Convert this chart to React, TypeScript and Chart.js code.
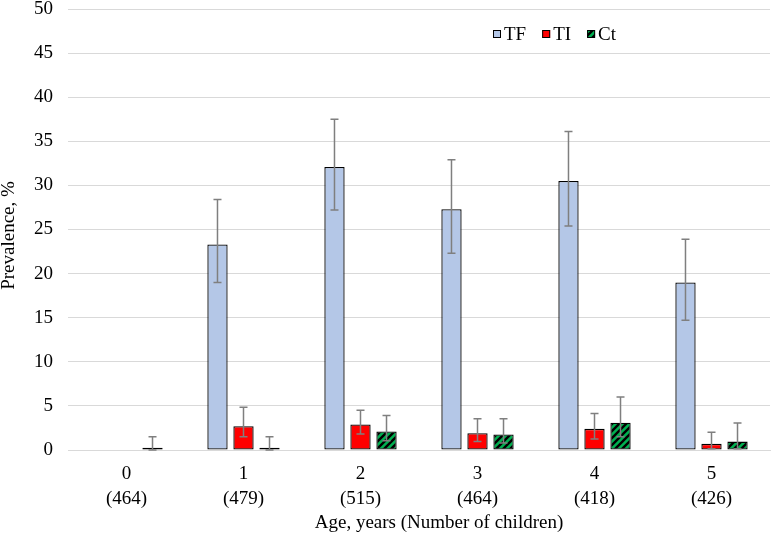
import { useEffect, useRef } from "react";
import { Chart, registerables } from "chart.js";
Chart.register(...registerables);

const categories = ["0", "1", "2", "3", "4", "5"];
const sampleSizes = ["(464)", "(479)", "(515)", "(464)", "(418)", "(426)"];

const tfValues = [0, 23.3, 32.1, 27.3, 30.5, 19.0];
const tfLower = [null, 19.0, 27.2, 22.3, 25.4, 14.7];
const tfUpper = [null, 28.4, 37.5, 32.9, 36.1, 23.9];

const tiValues = [0, 2.7, 2.9, 1.9, 2.4, 0.7];
const tiLower = [null, 1.5, 1.8, 0.95, 1.25, 0.15];
const tiUpper = [null, 4.85, 4.5, 3.55, 4.15, 2.0];

const ctValues = [0.25, 0.25, 2.1, 1.75, 3.1, 0.95];
const ctLower = [0, 0, 1.05, 0.8, 1.5, 0.15];
const ctUpper = [1.5, 1.5, 3.9, 3.55, 6.0, 3.05];

const yTicks = { min: 0, max: 50, step: 5 };
const xTitle = "Age, years (Number of children)";
const yTitle = "Prevalence, %";

const FONT = "'Liberation Serif', 'Times New Roman', serif";
const FS = 19;

function makeStripes(ctx: CanvasRenderingContext2D) {
  const s = 7;
  const c = document.createElement("canvas");
  c.width = s;
  c.height = s;
  const g = c.getContext("2d")!;
  g.fillStyle = "#00B050";
  g.fillRect(0, 0, s, s);
  g.strokeStyle = "#000000";
  g.lineWidth = 2.4;
  g.beginPath();
  g.moveTo(0, s);
  g.lineTo(s, 0);
  g.moveTo(-2, 2);
  g.lineTo(2, -2);
  g.moveTo(s - 2, s + 2);
  g.lineTo(s + 2, s - 2);
  g.stroke();
  return ctx.createPattern(c, "repeat") || "#00B050";
}

export default function App() {
  const ref = useRef<HTMLCanvasElement>(null);

  useEffect(() => {
    const ctx = ref.current!.getContext("2d")!;
    const stripes = makeStripes(ctx);

    const errorBars = {
      id: "errorBars",
      afterDatasetsDraw(chart: any) {
        const c = chart.ctx;
        const yScale = chart.scales.y;
        chart.data.datasets.forEach((ds: any, i: number) => {
          const meta = chart.getDatasetMeta(i);
          meta.data.forEach((bar: any, j: number) => {
            const lo = ds.errLow[j];
            const hi = ds.errHigh[j];
            if (lo == null || hi == null) return;
            const x = bar.x;
            const yLo = yScale.getPixelForValue(lo);
            const yHi = yScale.getPixelForValue(hi);
            c.save();
            c.strokeStyle = "#7F7F7F";
            c.lineWidth = 1.5;
            c.beginPath();
            c.moveTo(x, yLo);
            c.lineTo(x, yHi);
            c.moveTo(x - 4, yHi);
            c.lineTo(x + 4, yHi);
            c.moveTo(x - 4, yLo);
            c.lineTo(x + 4, yLo);
            c.stroke();
            c.restore();
          });
        });
      },
    };

    const customText = {
      id: "customText",
      afterDraw(chart: any) {
        const c = chart.ctx;
        const area = chart.chartArea;
        c.save();
        c.font = `${FS}px ${FONT}`;
        c.textBaseline = "middle";
        c.textAlign = "left";
        // legend
        let x = 493;
        const y = 34;
        chart.data.datasets.forEach((ds: any) => {
          c.fillStyle = ds.backgroundColor;
          c.fillRect(x, y - 4, 8, 8);
          c.strokeStyle = "#000";
          c.lineWidth = 1;
          c.strokeRect(x + 0.5, y - 3.5, 7, 7);
          c.fillStyle = "#000";
          c.fillText(ds.label, x + 11, y + 1);
          x += 11 + c.measureText(ds.label).width + 16;
        });
        // axis titles
        c.fillStyle = "#000";
        c.textAlign = "center";
        c.fillText(xTitle, (area.left + area.right) / 2 + 20, 523);
        c.translate(9, (area.top + area.bottom) / 2 + 6);
        c.rotate(-Math.PI / 2);
        c.fillText(yTitle, 0, 0);
        c.restore();
      },
    };

    const common = {
      borderColor: "#000000",
      borderWidth: 1.3,
      borderSkipped: false,
      categoryPercentage: 0.667,
      barPercentage: 0.78,
    };

    const chart = new Chart(ctx, {
      type: "bar",
      data: {
        labels: categories.map((c, i) => [c, sampleSizes[i]]),
        datasets: [
          { label: "TF", data: tfValues, backgroundColor: "#B4C7E7", errLow: tfLower, errHigh: tfUpper, ...common } as any,
          { label: "TI", data: tiValues, backgroundColor: "#FF0000", errLow: tiLower, errHigh: tiUpper, ...common } as any,
          { label: "Ct", data: ctValues, backgroundColor: stripes, errLow: ctLower, errHigh: ctUpper, ...common } as any,
        ],
      },
      options: {
        animation: false,
        responsive: true,
        maintainAspectRatio: false,
        layout: { padding: { top: 9, right: 4, left: 0, bottom: 0 } },
        plugins: {
          legend: { display: false },
          tooltip: { enabled: false },
        },
        scales: {
          x: {
            grid: { display: false, drawTicks: false },
            border: { display: true, color: "#D9D9D9", width: 1 },
            ticks: {
              color: "#000",
              font: { family: FONT, size: FS, lineHeight: 1.32 },
              padding: 11,
              maxRotation: 0,
            },
            title: { display: false, text: xTitle },
            afterFit: (s: any) => {
              s.height = 88;
              s.paddingLeft = 0;
              s.paddingRight = 0;
            },
          },
          y: {
            min: yTicks.min,
            max: yTicks.max,
            grid: { color: "#D9D9D9", lineWidth: 1, drawTicks: false },
            border: { display: false },
            ticks: {
              stepSize: yTicks.step,
              color: "#000",
              font: { family: FONT, size: FS },
              padding: 15,
            },
            title: { display: false, text: yTitle },
            afterFit: (s: any) => {
              s.width = 68;
              s.paddingTop = 0;
              s.paddingBottom = 0;
            },
          },
        },
      },
      plugins: [errorBars, customText],
    });
    return () => chart.destroy();
  }, []);

  return (
    <div style={{ position: "absolute", left: 0, top: 0, width: 774, height: 538 }}>
      <canvas ref={ref} />
    </div>
  );
}
